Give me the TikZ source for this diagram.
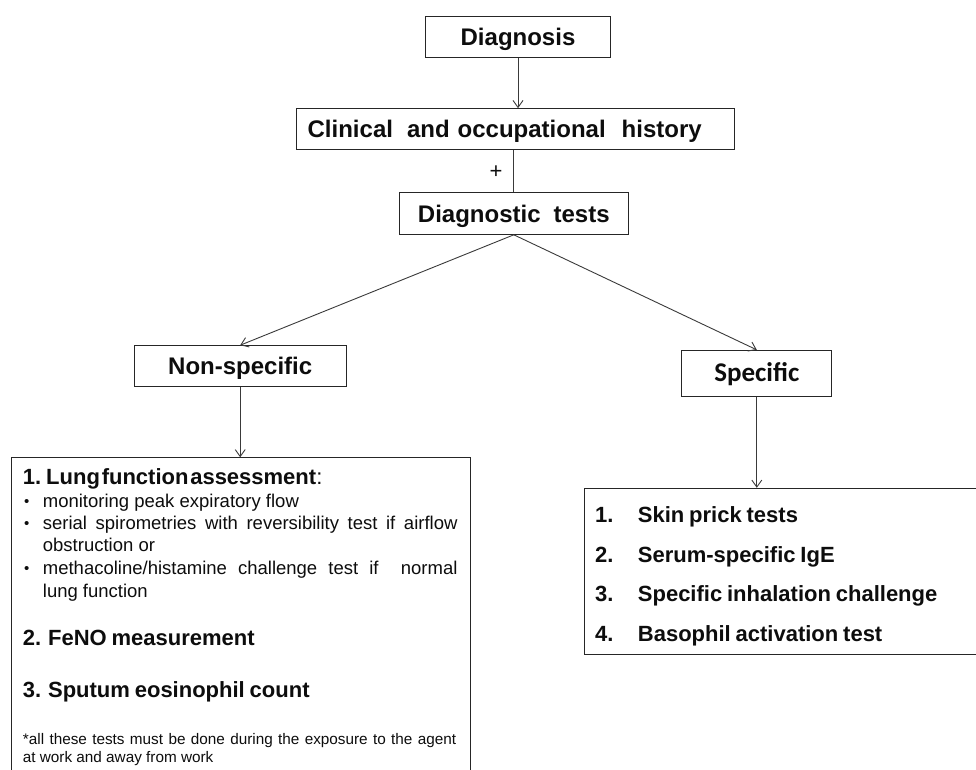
\documentclass[tikz,border=0pt]{standalone}
\usepackage{fontspec}
\setmainfont{Liberation Sans}
\newfontfamily\calibrifont{Carlito}
\usetikzlibrary{positioning,arrows.meta}
\definecolor{lineDark}{HTML}{262626}
\definecolor{lineMid}{HTML}{3A3A3A}
\definecolor{textPrimary}{HTML}{0D0D0D}
\newcommand{\tightwords}[1]{{\spaceskip=.22em plus .05em\relax #1}}

\begin{document}
\begin{tikzpicture}[x=1pt,y=-1pt,
          every node/.style={text=textPrimary,inner sep=0pt},
          box/.style={draw=lineDark,line width=1pt,fill=white},
          head/.style={font=\fontsize{24}{28}\selectfont\bfseries,
                       text height=17.2pt,text depth=0pt},
          item/.style={font=\fontsize{22}{26}\selectfont\bfseries,anchor=base west},
          bullet/.style={font=\fontsize{18.5}{22}\selectfont,anchor=base west},
          note/.style={font=\fontsize{15.3}{18}\selectfont,anchor=base west},
          link/.style={draw=lineMid,line width=0.9pt},
          arrow/.style={link,-{Straight Barb[length=7pt,width=10pt]}},
        ]
        \useasboundingbox (0,0) rectangle (976,769);
        % top chain
        \node[box,head,minimum width=185.7pt,minimum height=41.3pt]
              (diag) at (518,36.7) {Diagnosis};
        \node[box,head,minimum width=438.3pt,minimum height=40.6pt,
              text width=416.3pt,align=left,inner xsep=11pt]
              (hist) at (515.8,129) {Clinical\hspace{14pt}and occupational\hspace{16pt}history};
        \node[font=\fontsize{22}{26}\selectfont] (plus) at (496,171.7) {+};
        \node[box,head,minimum width=229pt,minimum height=41.6pt]
              (tests) at (513.8,213.5) {Diagnostic\hspace{13pt}tests};

        % two branches
        \node[box,head,minimum width=211.7pt,minimum height=41pt]
              (nonspec) at (240.2,366.2) {Non-specific};
        \node[box,font=\calibrifont\fontsize{27}{31}\selectfont\bfseries,
              text height=17.4pt,text depth=0pt,
              minimum width=149.7pt,minimum height=45.7pt]
              (spec) at (756.8,373.2) {Specific};

        % result boxes (run past the page edge)
        \node[box,anchor=north west,minimum width=459.3pt,minimum height=340pt]
              (lung) at (10.7,457.3) {};
        \node[box,anchor=north west,minimum width=420pt,minimum height=166.2pt]
              (spl) at (583.5,487.8) {};

        % connectors
        \draw[arrow] (diag.south) -- (diag.south |- hist.north);
        \draw[link] (tests.north |- hist.south) -- (tests.north);
        \draw[arrow] (tests.south) -- (nonspec.north);
        \draw[arrow] (tests.south) -- (spec.north);
        \draw[arrow] (nonspec.south) -- (nonspec.south |- lung.north);
        \draw[arrow] (spec.south) -- (spec.south |- spl.north);

        % non-specific tests
        \node[item] (lhead) at (22.7,484.3)
              {1.\hspace{5pt}{\spaceskip=.08em\relax Lung function assessment}{\mdseries :}};
        \foreach \y [count=\i] in {507.7,529.2,574.8} {
          \node[bullet,font=\fontsize{15}{18}\selectfont] (dot\i) at (24,\y-1) {\textbullet};
        }
        \node[bullet] (b1) at (42.7,507.7) {monitoring peak expiratory flow};
        \node[bullet] (b2) at (42.7,529.2)
              {\makebox[414.6pt][s]{serial spirometries with reversibility test if airflow}};
        \node[bullet] (b3) at (42.7,551.8) {obstruction or};
        \node[bullet] (b4) at (42.7,574.8)
              {\makebox[414.6pt][s]{methacoline/histamine challenge test if\ \ normal}};
        \node[bullet] (b5) at (42.7,597.3) {lung function};
        \node[item] (feno) at (22.7,645) {\tightwords{2. FeNO measurement}};
        \node[item] (sput) at (22.7,697.7) {\tightwords{3. Sputum eosinophil count}};
        \node[note] (note1) at (22.7,744)
              {\makebox[433.3pt][s]{*all these tests must be done during the exposure to the agent}};
        \node[note] (note2) at (22.7,762) {at work and away from work};

        % specific tests
        \foreach \y/\n/\txt [count=\i] in {522.9/1./Skin prick tests,
            562.4/2./Serum-specific IgE,
            601.9/3./Specific inhalation challenge,
            641.4/4./Basophil activation test} {
          \node[item] (num\i) at (595,\y) {\n};
          \node[item] (sp\i) at (637.7,\y) {\tightwords{\txt}};
        }
      \end{tikzpicture}
\end{document}
